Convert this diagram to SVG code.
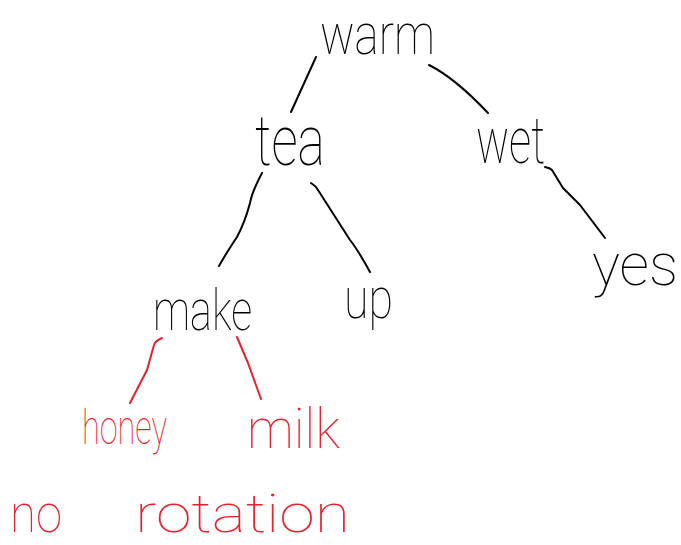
<svg xmlns="http://www.w3.org/2000/svg" width="681" height="545" viewBox="0 0 681 545">
  <style>
    .lbl { font-family: Roboto, Lato, "Liberation Sans", sans-serif; font-weight: 100; }
    .blk { fill: #000; }
    .red { fill: #e8202a; }
    .edge { fill: none; stroke-width: 2; stroke-linecap: round; stroke-linejoin: round; }
    .edge.k { stroke: #000; }
    .edge.r { stroke: #e8202a; }
  </style>
  <rect width="681" height="545" fill="#fff"/>

  <g id="connectors">
    <path class="edge k" d="M316 57 L291 112"/>
    <path class="edge k" d="M429 65 Q455 78 488 113"/>
    <path class="edge k" d="M262 173 Q252 192 250 203 Q245 222 237 237 Q225 255 219 266"/>
    <path class="edge k" d="M311 183 Q316 186 318 190 L350 240 Q358 250 370 272"/>
    <path class="edge k" d="M545 167 Q550 168 552 170 L563 188 L580 205 L605 238"/>
    <path class="edge r" d="M162 338 Q155 341 154 345 L147 370 L130 403"/>
    <path class="edge r" d="M237 337 L248 363 L261 399"/>
  </g>

  <g id="node-warm"><text class="lbl blk" x="320" y="54" font-size="58" textLength="115" lengthAdjust="spacingAndGlyphs">warm</text></g>
  <g id="node-tea"><text class="lbl blk" x="255" y="165" font-size="70" textLength="70" lengthAdjust="spacingAndGlyphs">tea</text></g>
  <g id="node-wet"><text class="lbl blk" x="476" y="163" font-size="64" textLength="69" lengthAdjust="spacingAndGlyphs">wet</text></g>
  <g id="node-yes"><text class="lbl blk" x="592" y="285" font-size="60" textLength="86" lengthAdjust="spacingAndGlyphs">yes</text></g>
  <g id="node-make"><text class="lbl blk" x="153" y="330" font-size="58" textLength="99" lengthAdjust="spacingAndGlyphs">make</text></g>
  <g id="node-up"><text class="lbl blk" x="344" y="318" font-size="58" textLength="49" lengthAdjust="spacingAndGlyphs">up</text></g>
  <g id="node-honey"><text class="lbl red" x="82" y="444" font-size="48" textLength="85" lengthAdjust="spacingAndGlyphs">honey</text></g>
  <g id="node-milk"><text class="lbl red" x="247" y="448" font-size="56" textLength="93" lengthAdjust="spacingAndGlyphs">milk</text></g>
  <g id="note"><text class="lbl red" x="10" y="532" font-size="54" textLength="52" lengthAdjust="spacingAndGlyphs">no</text>
    <text class="lbl red" x="135" y="532" font-size="54" textLength="215" lengthAdjust="spacingAndGlyphs">rotation</text></g>
</svg>
